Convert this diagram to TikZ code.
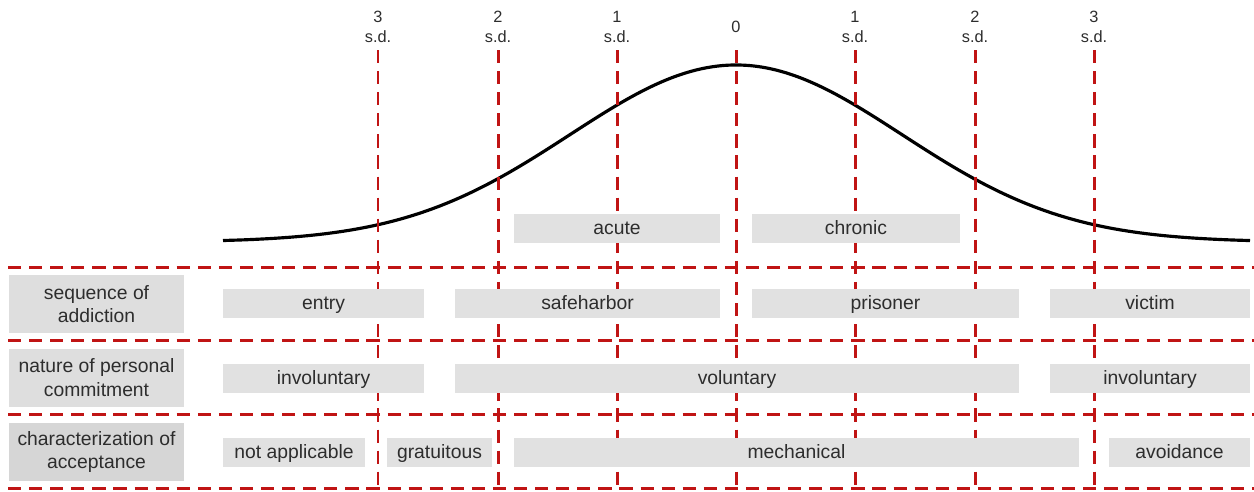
\documentclass[tikz,border=0pt]{standalone}
\usepackage{fontspec}
\setmainfont{Liberation Sans}
\usepackage{xcolor}
\usetikzlibrary{positioning}
\definecolor{sdred}{RGB}{192,20,20}
\definecolor{cellgray}{RGB}{225,225,225}
\definecolor{headgray}{RGB}{222,222,222}
\definecolor{txtgray}{RGB}{45,45,45}
\tikzset{
  grid line/.style={draw=sdred, line width=1.7pt, dash pattern=on 7.5pt off 4.5pt},
  cell/.style={fill=cellgray, inner sep=0pt, text=txtgray, font=\fontsize{11}{13.5}\selectfont, minimum height=16.5pt, text height=8.5pt, text depth=1.5pt},
  rowhead/.style={fill=headgray, inner sep=0pt, text=txtgray, font=\fontsize{11}{13.5}\selectfont, align=center, minimum width=100pt, minimum height=33pt},
  sdlabel/.style={text=txtgray, font=\fontsize{9.3}{11.3}\selectfont, align=center, inner sep=0pt}
}
\begin{document}
\begin{tikzpicture}[x=0.02cm, y=-0.02cm]
        \useasboundingbox (0,0) rectangle (1254,491);

        % Bell curve
        \draw[black, line width=1.8pt, domain=223:1250, samples=120, smooth] plot (\x, {242-177*exp(-((\x-736)/166)^2/2)});

        % Standard deviation markers
        \foreach \xs/\lab in {378/3, 498/2, 617/1, 855/1, 975/2, 1094/3} {
            \draw[grid line] (\xs, 50) -- (\xs, 491);
            \node[sdlabel] (sd\xs) at (\xs, 27) {\lab\\s.d.};
        }
        \draw[grid line] (736, 50) -- (736, 491);
        \node[sdlabel] (sd736) at (736, 27) {0};

        % Row separators
        \foreach \ys in {267, 340, 414, 488}
            \draw[grid line] (8, \ys) -- (1254, \ys);

        % Top row
        \node[cell, minimum width=206*0.02cm] (acute) at (617, 228.5) {acute};
        \node[cell, minimum width=208*0.02cm] (chronic) at (856, 228.5) {chronic};

        % Row headers
        \node[rowhead] (seq) at (96.5, 304) {sequence of\\addiction};
        \node[rowhead] (nat) at (96.5, 377.5) {nature of personal\\commitment};
        \node[rowhead, fill=cellgray!95!black] (char) at (96.5, 452) {characterization of\\acceptance};

        % Sequence of addiction
        \node[cell, minimum width=201*0.02cm] (entry) at (323.5, 303.5) {entry};
        \node[cell, minimum width=265*0.02cm] (safe) at (587.5, 303.5) {safeharbor};
        \node[cell, minimum width=267*0.02cm] (prisoner) at (885.5, 303.5) {prisoner};
        \node[cell, minimum width=200*0.02cm] (victim) at (1150, 303.5) {victim};

        % Nature of personal commitment
        \node[cell, minimum width=201*0.02cm] (invl) at (323.5, 378) {involuntary};
        \node[cell, minimum width=564*0.02cm] (vol) at (737, 378) {voluntary};
        \node[cell, minimum width=200*0.02cm] (invr) at (1150, 378) {involuntary};

        % Characterization of acceptance
        \node[cell, minimum width=142*0.02cm] (na) at (294, 452.5) {not applicable};
        \node[cell, minimum width=105*0.02cm] (grat) at (439.5, 452.5) {gratuitous};
        \node[cell, minimum width=565*0.02cm] (mech) at (796.5, 452.5) {mechanical};
        \node[cell, minimum width=141*0.02cm] (avoid) at (1179.5, 452.5) {avoidance};
    \end{tikzpicture}
\end{document}
